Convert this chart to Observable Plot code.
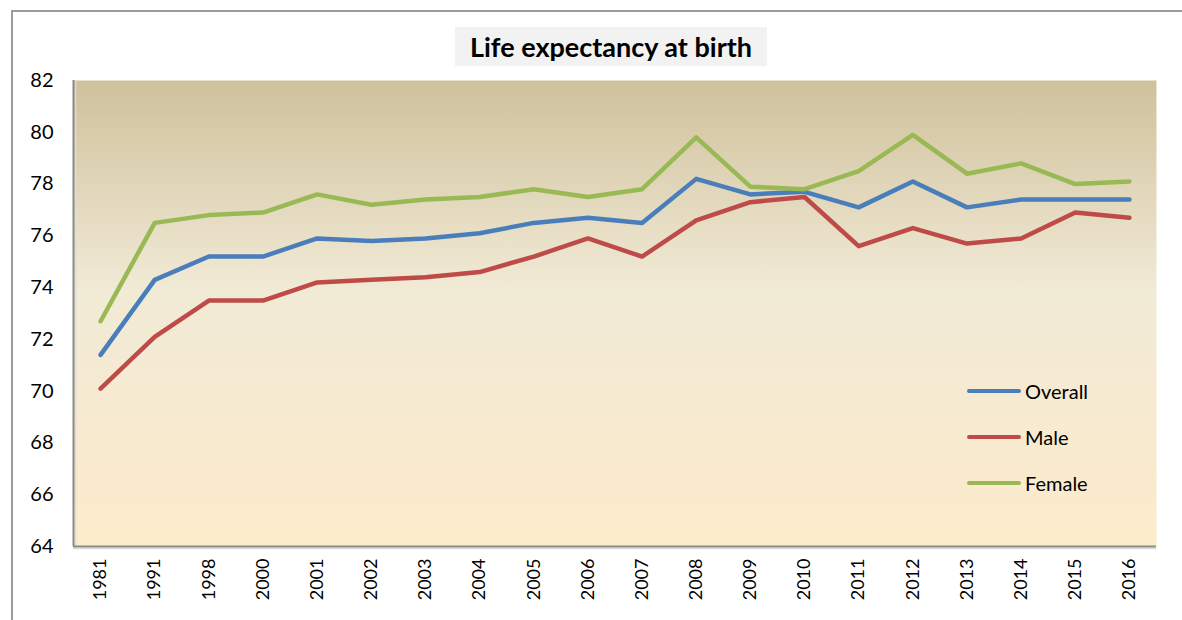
<!DOCTYPE html>
<html><head><meta charset="utf-8">
<script src="https://cdn.jsdelivr.net/npm/d3@7"></script>
<script src="https://cdn.jsdelivr.net/npm/@observablehq/plot@0.6"></script>
<style>
html,body{margin:0;padding:0;background:#fff;overflow:hidden;}
#wrap{position:relative;width:1182px;height:620px;font-family:Lato,"Open Sans",sans-serif;overflow:hidden;}
#chart{position:absolute;left:0;top:0;}
#border{position:absolute;left:11px;top:10px;width:1240px;height:700px;border:2px solid #9c9c9c;box-sizing:border-box;pointer-events:none;}
#title{position:absolute;left:455px;top:27px;width:312px;height:39px;background:#f2f2f2;font-weight:700;font-size:27px;line-height:39px;text-align:center;color:#000;}
.leg{position:absolute;left:967px;height:20px;display:flex;align-items:center;font-size:20px;color:#000;}
.leg .sw{width:54px;height:4px;border-radius:2px;margin-right:4px;}
</style></head>
<body><div id="wrap"><div id="chart"></div><div id="border"></div><div id="title">Life expectancy at birth</div><div id="legend"></div></div>
<script>
const years = ["1981","1991","1998","2000","2001","2002","2003","2004","2005","2006","2007","2008","2009","2010","2011","2012","2013","2014","2015","2016"];
const overall = [71.4,74.3,75.2,75.2,75.9,75.8,75.9,76.1,76.5,76.7,76.5,78.2,77.6,77.7,77.1,78.1,77.1,77.4,77.4,77.4];
const male    = [70.1,72.1,73.5,73.5,74.2,74.3,74.4,74.6,75.2,75.9,75.2,76.6,77.3,77.5,75.6,76.3,75.7,75.9,76.9,76.7];
const female  = [72.7,76.5,76.8,76.9,77.6,77.2,77.4,77.5,77.8,77.5,77.8,79.8,77.9,77.8,78.5,79.9,78.4,78.8,78.0,78.1];
const yTicks = [64,66,68,70,72,74,76,78,80,82];
const seriesNames = ["Overall","Male","Female"];
const seriesColors = ["#4a7ebb","#be4b48","#98b954"];
const seriesValues = [overall, male, female];

const rows = [];
seriesNames.forEach((s, k) => years.forEach((yr, i) => rows.push({series: s, pos: i + 0.5, year: yr, value: seriesValues[k][i]})));

const svg = Plot.plot({
  width: 1182, height: 620,
  marginTop: 80, marginBottom: 74, marginLeft: 73, marginRight: 26,
  style: {fontFamily: "Lato, 'Open Sans', sans-serif", color: "#000", background: "transparent"},
  x: {domain: [0, years.length]},
  y: {domain: [64, 82]},
  color: {domain: seriesNames, range: seriesColors},
  marks: [
    Plot.frame({fill: "url(#bg)", stroke: null}),
    Plot.axisY({ticks: yTicks, tickSize: 0, tickPadding: 20, fontSize: 20, label: null}),
    Plot.axisX({ticks: years.map((_, i) => i + 0.5), tickFormat: v => years[Math.round(v - 0.5)], tickRotate: -90, tickSize: 0, tickPadding: 12, fontSize: 18, label: null}),
    Plot.ruleX([0], {stroke: "#dcdcdc", strokeWidth: 1.5, dx: 2}),
    Plot.ruleY([64], {stroke: "#dcdcdc", strokeWidth: 1.5, dy: 2}),
    Plot.ruleX([0], {stroke: "#8a8a8a", strokeWidth: 2}),
    Plot.ruleY([64], {stroke: "#8a8a8a", strokeWidth: 2}),
    Plot.line(rows, {x: "pos", y: "value", z: "series", stroke: "series", strokeWidth: 4.5, strokeLinecap: "round", strokeLinejoin: "round"})
  ]
});
const defs = d3.select(svg).insert("defs", ":first-child");
const g = defs.append("linearGradient").attr("id", "bg").attr("x1", 0).attr("y1", 0).attr("x2", 0).attr("y2", 1);
g.append("stop").attr("offset", "0%").attr("stop-color", "#cfc19b");
g.append("stop").attr("offset", "45%").attr("stop-color", "#f1ead6");
g.append("stop").attr("offset", "100%").attr("stop-color", "#fdebcb");
document.getElementById("chart").appendChild(svg);

const legTops = [381, 427, 473];
const leg = document.getElementById("legend");
seriesNames.forEach((s, k) => {
  const d = document.createElement("div");
  d.className = "leg"; d.style.top = legTops[k] + "px";
  d.innerHTML = `<span class="sw" style="background:${seriesColors[k]}"></span><span>${s}</span>`;
  leg.appendChild(d);
});
</script></body></html>
